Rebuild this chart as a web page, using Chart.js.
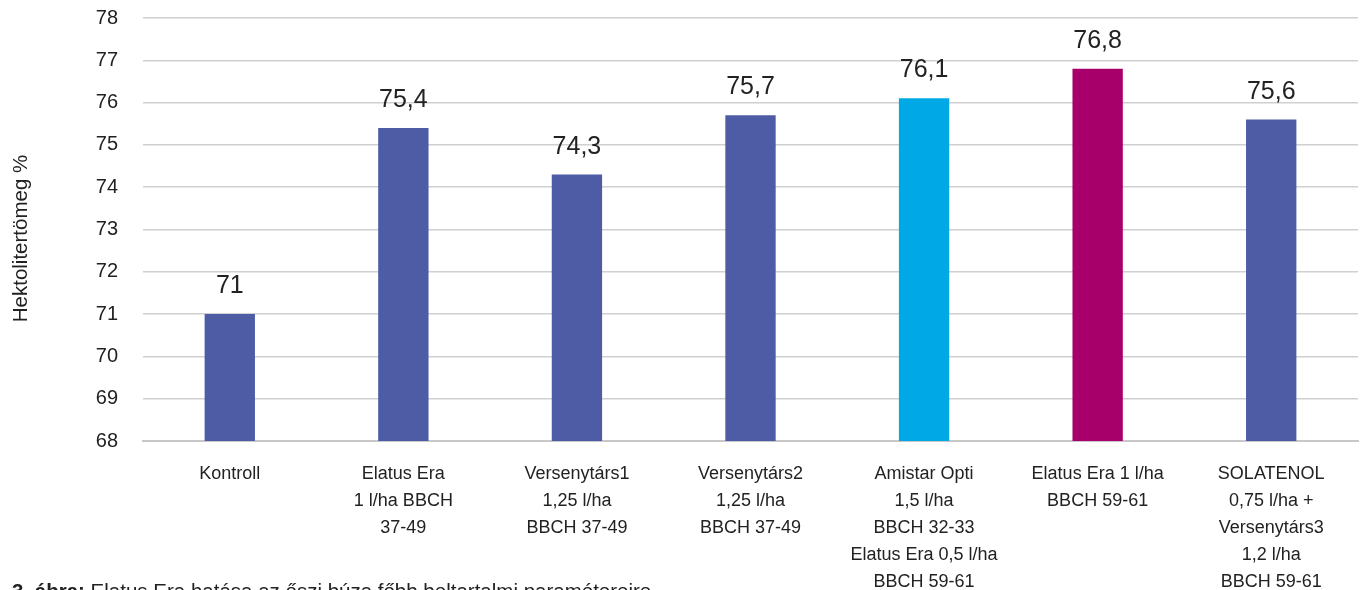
<!DOCTYPE html>
<html>
<head>
<meta charset="utf-8">
<script src="https://cdn.jsdelivr.net/npm/chart.js@4/dist/chart.umd.min.js"></script>
<style>
  html, body { margin: 0; padding: 0; background: #fff; }
  #wrap { position: relative; width: 1360px; height: 590px; overflow: hidden; }
  #caption {
    position: absolute; left: 12px; top: 579px;
    font-family: "Liberation Sans", Arial, sans-serif; font-size: 20.5px; color: #222;
    white-space: nowrap;
  }
</style>
</head>
<body>
<div id="wrap">
  <canvas id="chart" width="1360" height="590"></canvas>
  <div id="caption"><b>3. ábra:</b> Elatus Era hatása az őszi búza főbb beltartalmi paramétereire</div>
</div>
<script>
const categories = [
    ['Kontroll'],
    ['Elatus Era', '1 l/ha BBCH', '37-49'],
    ['Versenytárs1', '1,25 l/ha', 'BBCH 37-49'],
    ['Versenytárs2', '1,25 l/ha', 'BBCH 37-49'],
    ['Amistar Opti', '1,5 l/ha', 'BBCH 32-33', 'Elatus Era 0,5 l/ha', 'BBCH 59-61'],
    ['Elatus Era 1 l/ha', 'BBCH 59-61'],
    ['SOLATENOL', '0,75 l/ha +', 'Versenytárs3', '1,2 l/ha', 'BBCH 59-61']
];
const values = [71, 75.4, 74.3, 75.7, 76.1, 76.8, 75.6];
const barColors = ['#4e5ba5', '#4e5ba5', '#4e5ba5', '#4e5ba5', '#00a9e6', '#a8006b', '#4e5ba5'];
const yTicks = [68, 69, 70, 71, 72, 73, 74, 75, 76, 77, 78];
const yTitle = 'Hektolitertömeg %';

const font = '"Liberation Sans", Arial, sans-serif';

// value labels above the bars + y axis title (sits a bit below the axis centre in the original)
const extras = {
    id: 'extras',
    afterDatasetsDraw(chart) {
        const ctx = chart.ctx;
        const meta = chart.getDatasetMeta(0);
        ctx.save();
        ctx.font = '25px ' + font;
        ctx.fillStyle = '#222';
        ctx.textAlign = 'center';
        ctx.textBaseline = 'alphabetic';
        meta.data.forEach((bar, i) => {
            ctx.fillText(String(values[i]).replace('.', ','), bar.x, bar.y - 21);
        });

        ctx.font = '20.5px ' + font;
        ctx.textBaseline = 'middle';
        ctx.translate(21, chart.chartArea.top + chart.chartArea.height / 2 + 9);
        ctx.rotate(-Math.PI / 2);
        ctx.fillText(yTitle, 0, 0);
        ctx.restore();
    }
};

new Chart(document.getElementById('chart'), {
    type: 'bar',
    data: {
        labels: categories,
        datasets: [{
            data: values,
            backgroundColor: barColors,
            barPercentage: 1,
            categoryPercentage: 0.29
        }]
    },
    options: {
        responsive: false,
        animation: false,
        layout: { padding: { top: 18, right: 2 } },
        plugins: { legend: { display: false }, tooltip: { enabled: false } },
        scales: {
            x: {
                grid: { display: false },
                border: { color: '#c8c8c8', width: 2 },
                ticks: { color: '#222', font: { family: font, size: 18, lineHeight: 1.5 }, padding: 12, maxRotation: 0, autoSkip: false },
                afterFit(scale) { scale.height = 149; }
            },
            y: {
                min: 68,
                max: 78,
                afterBuildTicks(scale) { scale.ticks = yTicks.map(v => ({ value: v })); },
                grid: { color: '#d0d0d0', lineWidth: 1.5, drawTicks: false },
                border: { display: false },
                ticks: { color: '#222', font: { family: font, size: 20 }, padding: 25 },
                afterFit(scale) {
                    scale.width = 143;
                    scale.paddingTop = 0;
                    scale.paddingBottom = 0;
                }
            }
        }
    },
    plugins: [extras]
});
</script>
</body>
</html>
